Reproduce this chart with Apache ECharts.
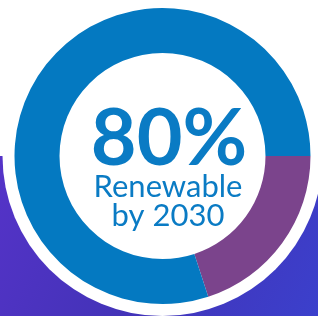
<!DOCTYPE html>
<html>
<head>
<meta charset="utf-8">
<script src="https://cdn.jsdelivr.net/npm/echarts@6/dist/echarts.min.js"></script>
<style>
html, body { margin: 0; padding: 0; background: #fff; }
#main { width: 318px; height: 316px; }
</style>
</head>
<body>
<div id="main"></div>
<script>
var categories = ['Other', 'Renewable'];
var shares = [20, 80];
var sliceColors = ['#7b448c', '#0479c1'];
var headline = '80%';
var caption = 'Renewable\nby 2030';

var myChart = echarts.init(document.getElementById('main'));

var center = [162.5, 156];

option = {
	animation: false,
	graphic: [
		{
			type: 'rect',
			z: -10,
			silent: true,
			shape: { x: 0, y: 156, width: 318, height: 160 },
			style: {
				fill: new echarts.graphic.LinearGradient(0, 0, 1, 1, [
					{ offset: 0, color: '#5533c8' },
					{ offset: 0.5, color: '#4333b8' },
					{ offset: 1, color: '#3b40cc' }
				])
			}
		}
	],
	title: [
		{
			text: headline,
			left: 164,
			top: 95,
			textAlign: 'center',
			textStyle: {
				fontFamily: 'Lato',
				fontWeight: 'bold',
				fontSize: 79,
				color: '#0a7bc4'
			}
		},
		{
			text: caption,
			left: 163,
			top: 167,
			textAlign: 'center',
			textStyle: {
				fontFamily: 'Lato',
				fontWeight: 'normal',
				fontSize: 31,
				lineHeight: 29,
				color: '#0a7bc4'
			}
		}
	],
	series: [
		{
			name: 'halo',
			type: 'pie',
			silent: true,
			z: 1,
			center: center,
			radius: [0, 160],
			label: { show: false },
			itemStyle: { color: '#ffffff' },
			data: [1]
		},
		{
			name: 'Energy mix',
			type: 'pie',
			z: 2,
			center: center,
			radius: [103, 148],
			startAngle: 0,
			clockwise: true,
			label: { show: false },
			labelLine: { show: false },
			emphasis: { disabled: true },
			data: categories.map(function (c, i) {
				return { name: c, value: shares[i], itemStyle: { color: sliceColors[i] } };
			})
		}
	]
};

myChart.setOption(option);
</script>
</body>
</html>
